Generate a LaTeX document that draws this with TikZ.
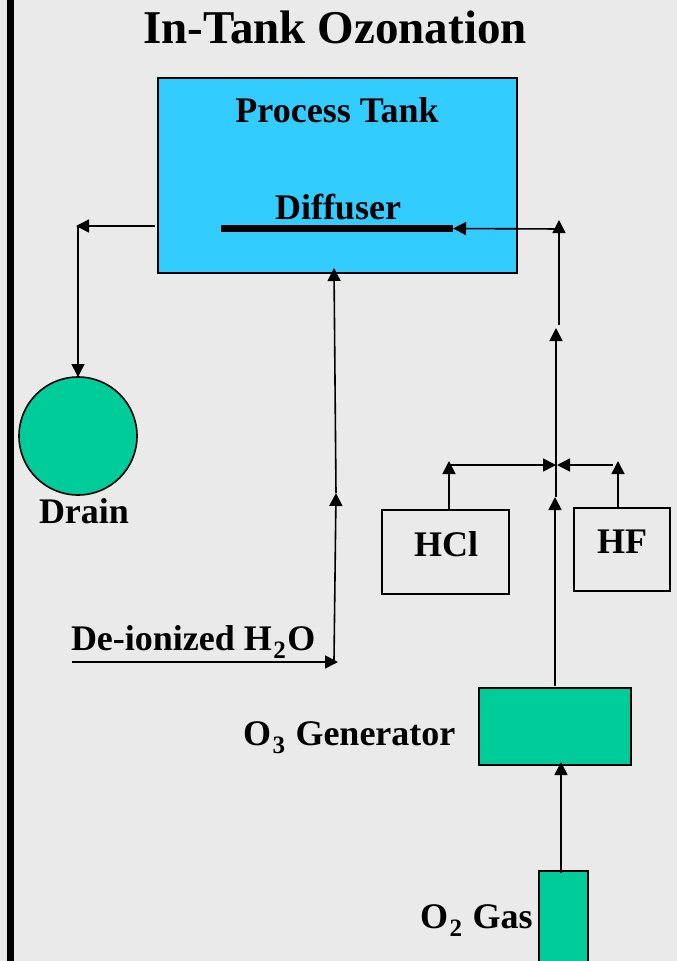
\documentclass[tikz,border=0pt]{standalone}
\usepackage{fontspec}
\setmainfont{Liberation Serif}
\usetikzlibrary{arrows.meta}
\definecolor{bg}{HTML}{EAEAEA}
\definecolor{tankblue}{HTML}{33CCFF}
\definecolor{gr}{HTML}{00CC99}
\newcommand\lowsub[1]{\kern1.5pt\raisebox{-8pt}{\fontsize{25}{25}\selectfont #1}\kern1.5pt\relax}
\begin{document}
\begin{tikzpicture}[x=1pt,y=-1pt,
  lbl/.style={font=\fontsize{36}{40}\selectfont\bfseries, inner sep=0pt, outer sep=0pt},
  ttl/.style={font=\fontsize{47}{52}\selectfont\bfseries, inner sep=0pt, outer sep=0pt},
  flow/.style={line width=1.6pt, -{Triangle[length=13pt,width=13pt]}},
  unit/.style={draw, line width=1.6pt, inner sep=0pt, outer sep=0pt, anchor=north west}]
\clip (0,0) rectangle (677,961);
\fill[bg] (0,0) rectangle (677,961);
\draw[line width=7pt] (10.5,0) -- (10.5,961);

% title
\node[ttl, anchor=base] (title) at (335,43) {In-Tank Ozonation};

% units
\node[unit, fill=tankblue, minimum width=359pt, minimum height=195pt] (tank) at (158,78) {};
\node[lbl, anchor=base] (tanklbl) at (337,122) {Process Tank};
\node[lbl, anchor=base] (difflbl) at (338,219) {Diffuser};
\node[fill=black, minimum width=232pt, minimum height=7pt, inner sep=0pt, outer sep=0pt] (diff) at (337,228.5) {};

\node[circle, draw, line width=1.6pt, fill=gr, minimum size=118pt, inner sep=0pt, outer sep=0pt] (drain) at (78,436) {};
\node[lbl, anchor=base] (drainlbl) at (84,523) {Drain};

\node[unit, minimum width=127pt, minimum height=84pt] (hcl) at (382,510) {};
\node[lbl, anchor=base] (hcllbl) at (446,556) {HCl};
\node[unit, minimum width=96pt, minimum height=83pt] (hf) at (574,508) {};
\node[lbl, anchor=base] (hflbl) at (622,553) {HF};

\node[unit, fill=gr, minimum width=152pt, minimum height=77pt] (gen) at (479,688) {};
\node[lbl, anchor=base west] (genlbl) at (243,745) {O\lowsub{3} Generator};

\node[unit, fill=gr, minimum width=49pt, minimum height=110pt] (o2) at (539,871) {};
\node[lbl, anchor=base west] (o2lbl) at (420,928) {O\lowsub{2} Gas};

\node[lbl, anchor=base west] (dilbl) at (71,650) {De-ionized H\lowsub{2}O};

% connector end points
\coordinate (tout) at (155,226);
\coordinate (dcorner) at (76,226);
\coordinate (dtop) at (78,226);
\coordinate (diin) at (72,662);
\coordinate (dijoin) at (338,662);
\coordinate (dibot) at (334,660);
\coordinate (dimid) at (336,493);
\coordinate (tankin) at (334,268);
\coordinate (hclup) at (449,461);
\coordinate (hclh) at (449,465);
\coordinate (jn) at (556,465);
\coordinate (jnr) at (557,465);
\coordinate (hfup) at (618,461);
\coordinate (hfh) at (613,465);
\coordinate (genout) at (555,686);
\coordinate (up1) at (555,497);
\coordinate (up1b) at (556,497);
\coordinate (up2) at (556,328);
\coordinate (up2b) at (559,325);
\coordinate (up3) at (559,220);
\coordinate (up3b) at (559,229);
\coordinate (o2out) at (561,873);
\coordinate (genin) at (561,762);

% connectors
\draw[flow] (tout) -- (dcorner);
\draw[flow] (dtop) -- (drain.north);
\draw[flow] (diin) -- (dijoin);
\draw[flow] (dibot) -- (dimid);
\draw[flow] (dimid) -- (tankin);
\draw[flow] (hcl.north -| hclup) -- (hclup);
\draw[flow] (hclh) -- (jn);
\draw[flow] (hf.north -| hfup) -- (hfup);
\draw[flow] (hfh) -- (jnr);
\draw[flow] (genout) -- (up1);
\draw[flow] (up1b) -- (up2);
\draw[flow] (up2b) -- (up3);
\draw[flow] (up3b) -- (diff.east);
\draw[flow] (o2out) -- (genin);
\end{tikzpicture}
\end{document}
